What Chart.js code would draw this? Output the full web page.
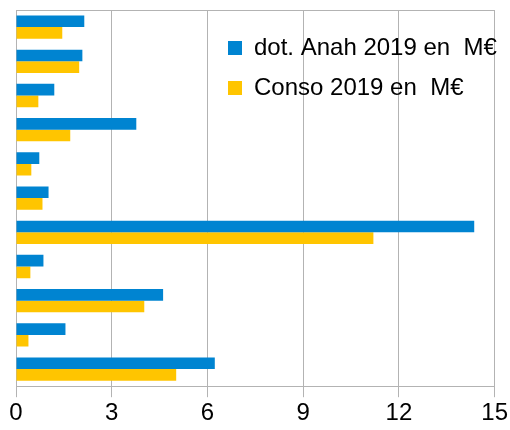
<!DOCTYPE html>
<html>
<head>
<meta charset="utf-8">
<script src="https://cdn.jsdelivr.net/npm/chart.js@4/dist/chart.umd.min.js"></script>
<style>
  html, body { margin: 0; padding: 0; background: #fff; }
  #wrap { width: 510px; height: 430px; position: relative; }
</style>
</head>
<body>
<div id="wrap"><canvas id="barChart"></canvas></div>
<script>
  var colors = ['#0084d1', '#ffc500'];
  var gridColor = '#b3b3b3';

  // 11 categories, no labels shown on the chart
  var categories = ['', '', '', '', '', '', '', '', '', '', ''];
  var dotAnah = [2.14, 2.08, 1.20, 3.77, 0.73, 1.02, 14.36, 0.86, 4.61, 1.55, 6.23];
  var conso = [1.45, 1.98, 0.70, 1.70, 0.48, 0.83, 11.20, 0.45, 4.02, 0.39, 5.02];
  var xTicks = [0, 3, 6, 9, 12, 15];

  Chart.defaults.font.family = '"Liberation Sans", Arial, sans-serif';
  Chart.defaults.color = '#000';

  // legend sits inside the plot, top right
  var moveLegend = {
      id: 'moveLegend',
      afterLayout: function (chart) {
          var lg = chart.legend;
          if (!lg) return;
          lg.left = 212;
          lg.top = 20;
          lg.right = lg.left + lg.width;
          lg.bottom = lg.top + lg.height;
      }
  };

  var ctx = document.getElementById('barChart');

  new Chart(ctx, {
      type: 'bar',
      data: {
          labels: categories,
          datasets: [{
              label: 'dot. Anah 2019 en  M€',
              data: dotAnah,
              backgroundColor: colors[0],
              borderWidth: 0
          }, {
              label: 'Conso 2019 en  M€',
              data: conso,
              backgroundColor: colors[1],
              borderWidth: 0
          }]
      },
      options: {
          indexAxis: 'y',
          responsive: true,
          maintainAspectRatio: false,
          animation: false,
          layout: { padding: { left: 16, right: 13, top: 10, bottom: 0 } },
          datasets: { bar: { categoryPercentage: 0.68, barPercentage: 1.0 } },
          plugins: {
              tooltip: { enabled: false },
              legend: {
                  position: 'chartArea',
                  align: 'start',
                  labels: {
                      font: { size: 24 },
                      boxWidth: 14,
                      boxHeight: 14,
                      padding: 16,
                      color: '#000'
                  }
              }
          },
          scales: {
              x: {
                  min: 0,
                  max: 15,
                  afterBuildTicks: function (axis) {
                      axis.ticks = xTicks.map(function (v) { return { value: v }; });
                  },
                  grid: { color: gridColor, lineWidth: 1, tickLength: 11 },
                  border: { color: gridColor },
                  ticks: { font: { size: 24 }, padding: 2, maxRotation: 0 }
              },
              x2: {
                  axis: 'x',
                  position: 'top',
                  min: 0,
                  max: 15,
                  ticks: { display: false },
                  grid: { display: false, drawTicks: false },
                  border: { display: true, color: gridColor }
              },
              y: {
                  ticks: { display: false },
                  grid: { display: false, drawTicks: false },
                  border: { display: true, color: gridColor }
              }
          }
      },
      plugins: [moveLegend]
  });
</script>
</body>
</html>
